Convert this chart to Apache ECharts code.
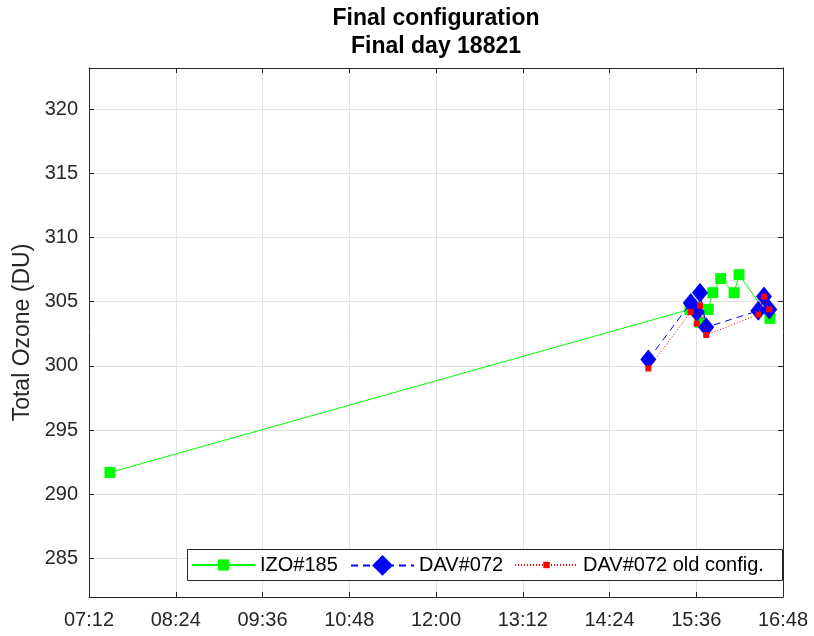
<!DOCTYPE html>
<html>
<head>
<meta charset="utf-8">
<script src="https://cdn.jsdelivr.net/npm/echarts@6/dist/echarts.min.js"></script>
<style>
  html, body { margin: 0; padding: 0; background: #fff; }
  #chart { width: 814px; height: 636px; }
</style>
</head>
<body>
<div id="chart"></div>
<script>
// Time of day in minutes after midnight, total ozone in DU
const izoTime  = [449.4, 930.8, 939.1, 946.0, 949.7, 956.3, 967.4, 971.5, 997.2];
const izoOzone = [291.7, 304.4, 303.4, 304.4, 305.7, 306.8, 305.7, 307.1, 303.7];

const davTime     = [896.2, 931.4, 936.4, 939.1, 944.3, 987.5, 992.2, 996.6];
const davOzone    = [300.5, 304.9, 304.2, 305.7, 303.0, 304.3, 305.4, 304.4];
const davOldOzone = [299.8, 304.2, 303.3, 304.7, 302.4, 304.0, 305.4, 304.4];

const yTicks = [285, 290, 295, 300, 305, 310, 315, 320];
const seriesNames = ['IZO#185', 'DAV#072', 'DAV#072 old config.'];

const pairs = (xs, ys) => xs.map((x, i) => [x, ys[i]]);
const hhmm = v => {
  const h = Math.floor(v / 60), m = Math.round(v - h * 60);
  return String(h).padStart(2, '0') + ':' + String(m).padStart(2, '0');
};

const AX = '#262626';
const GRIDC = '#e3e3e3';
const FONT = 'Liberation Sans, Arial, sans-serif';
// tall diamond marker (narrower than it is high)
const DIAMOND = 'path://M8,0 L16,10 L8,20 L0,10 Z';

const chart = echarts.init(document.getElementById('chart'), null, { renderer: 'canvas' });

const baseX = {
  type: 'value', min: 432, max: 1008, interval: 72,
  axisLine: { show: true, lineStyle: { color: AX, width: 1 } },
  axisTick: { show: true, inside: true, length: 5, lineStyle: { color: AX } },
  splitLine: { show: false },
  axisLabel: { show: false }
};
const baseY = {
  type: 'value', min: 282, max: 323.2,
  axisLine: { show: true, lineStyle: { color: AX, width: 1 } },
  axisTick: { show: true, inside: true, length: 5, customValues: yTicks, lineStyle: { color: AX } },
  splitLine: { show: false },
  axisLabel: { show: false, customValues: yTicks }
};

const legendText = { color: '#000', fontSize: 20, fontFamily: FONT };
const legendBase = { orient: 'horizontal', padding: 0, itemWidth: 63, textStyle: legendText, z: 10, selectedMode: false };

chart.setOption({
  animation: false,
  backgroundColor: '#fff',
  textStyle: { fontFamily: FONT },
  grid: { left: 89, right: 31, top: 68, bottom: 39, containLabel: false },
  graphic: [
    { type: 'text', x: 436, y: 19, style: { text: 'Final configuration', textAlign: 'center', textVerticalAlign: 'middle', font: 'bold 23px ' + FONT, fill: '#000' } },
    { type: 'text', x: 436, y: 47, style: { text: 'Final day 18821', textAlign: 'center', textVerticalAlign: 'middle', font: 'bold 23px ' + FONT, fill: '#000' } },
    { type: 'rect', z: 5, shape: { x: 187.5, y: 549.5, width: 595, height: 31 }, style: { fill: '#fff', stroke: AX, lineWidth: 1 } }
  ],
  xAxis: [
    Object.assign({}, baseX, {
      position: 'bottom',
      splitLine: { show: true, lineStyle: { color: GRIDC, width: 1 } },
      axisLabel: { show: true, formatter: hhmm, color: AX, fontSize: 20, margin: 13, fontFamily: FONT }
    }),
    Object.assign({}, baseX, { position: 'top' })
  ],
  yAxis: [
    Object.assign({}, baseY, {
      position: 'left',
      name: 'Total Ozone (DU)', nameLocation: 'middle', nameGap: 51,
      nameTextStyle: { color: AX, fontSize: 23, fontFamily: FONT },
      splitLine: { show: true, lineStyle: { color: GRIDC, width: 1 } },
      axisLabel: { show: true, customValues: yTicks, color: AX, fontSize: 20, margin: 11, fontFamily: FONT }
    }),
    Object.assign({}, baseY, { position: 'right' })
  ],
  legend: [
    Object.assign({}, legendBase, { data: [seriesNames[0]], left: 191, top: 555, itemHeight: 14 }),
    Object.assign({}, legendBase, { data: [seriesNames[1]], left: 350, top: 555, itemHeight: 26 }),
    Object.assign({}, legendBase, { data: [seriesNames[2]], left: 514, top: 555, itemHeight: 8 })
  ],
  series: [
    {
      name: seriesNames[0], type: 'line', xAxisIndex: 0, yAxisIndex: 0,
      data: pairs(izoTime, izoOzone),
      symbol: 'rect', symbolSize: 11,
      itemStyle: { color: '#00ff00' },
      lineStyle: { color: '#00ff00', width: 1, type: 'solid' },
      z: 2
    },
    {
      name: seriesNames[1], type: 'line', xAxisIndex: 0, yAxisIndex: 0,
      data: pairs(davTime, davOzone),
      symbol: DIAMOND, symbolSize: [16, 20],
      itemStyle: { color: '#0000ff' },
      lineStyle: { color: '#0000ff', width: 1, type: [7, 5] },
      z: 3
    },
    {
      name: seriesNames[2], type: 'line', xAxisIndex: 0, yAxisIndex: 0,
      data: pairs(davTime, davOldOzone),
      symbol: 'rect', symbolSize: 6,
      itemStyle: { color: '#ff0000' },
      lineStyle: { color: '#ff0000', width: 1, type: [1, 2] },
      z: 4
    }
  ]
});
</script>
</body>
</html>
